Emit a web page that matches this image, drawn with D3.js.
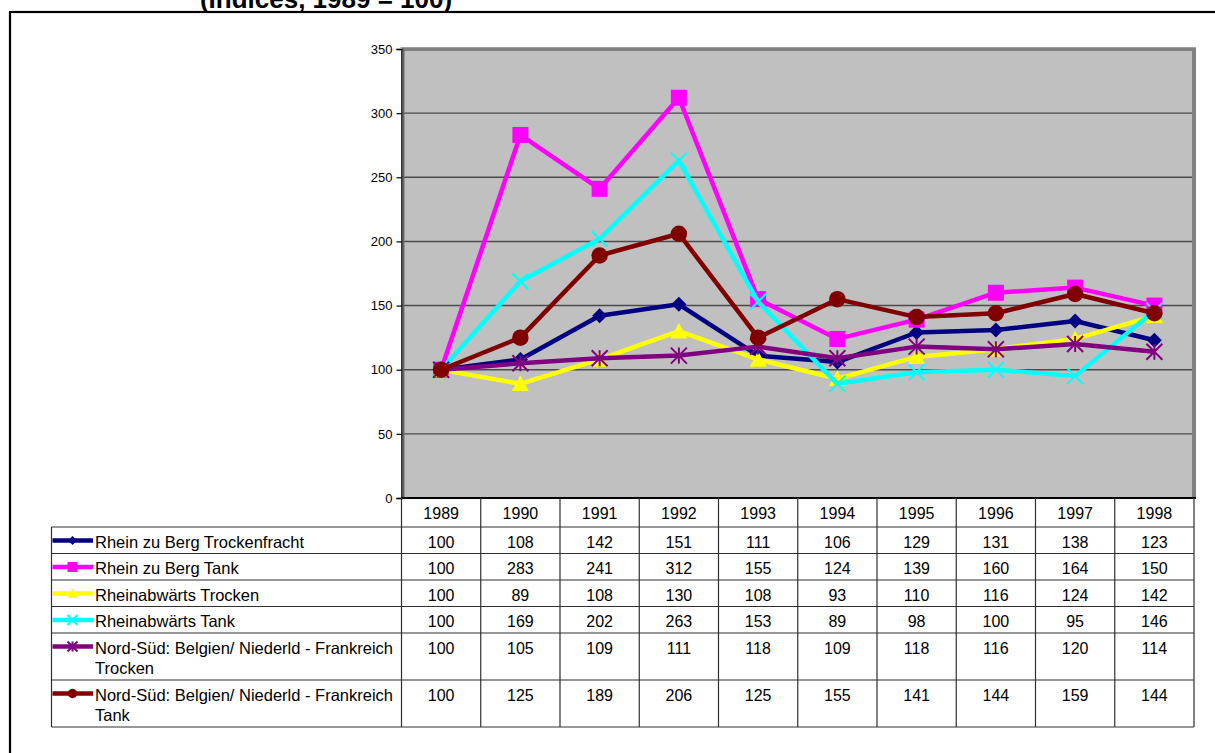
<!DOCTYPE html>
<html>
<head>
<meta charset="utf-8">
<script src="https://cdn.jsdelivr.net/npm/d3@7"></script>
<style>
html,body{margin:0;padding:0;background:#fff;}
svg{display:block;font-family:"Liberation Sans",Arial,sans-serif;}
</style>
</head>
<body>
<svg id="chart" width="1215" height="753"></svg>
<script>
const title = "(Indices, 1989 = 100)";
const years = ["1989","1990","1991","1992","1993","1994","1995","1996","1997","1998"];
const seriesNames = [
  ["Rhein zu Berg Trockenfracht"],
  ["Rhein zu Berg Tank"],
  ["Rheinabwärts Trocken"],
  ["Rheinabwärts Tank"],
  ["Nord-Süd: Belgien/ Niederld - Frankreich", "Trocken"],
  ["Nord-Süd: Belgien/ Niederld - Frankreich", "Tank"]
];
const rheinBergTrocken = [100,108,142,151,111,106,129,131,138,123];
const rheinBergTank    = [100,283,241,312,155,124,139,160,164,150];
const rheinabTrocken   = [100,89,108,130,108,93,110,116,124,142];
const rheinabTank      = [100,169,202,263,153,89,98,100,95,146];
const nsTrocken        = [100,105,109,111,118,109,118,116,120,114];
const nsTank           = [100,125,189,206,125,155,141,144,159,144];
const seriesValues = [rheinBergTrocken, rheinBergTank, rheinabTrocken, rheinabTank, nsTrocken, nsTank];
const seriesColors = ["#000080","#FF00FF","#FFFF00","#00FFFF","#800080","#800000"];
const seriesMarkers = ["diamond","square","triangle","x","asterisk","circle"];
const yTicks = [0,50,100,150,200,250,300,350];

const svg = d3.select("#chart");

// outer frame
svg.append("rect").attr("x",10).attr("y",12).attr("width",1220).attr("height",760)
  .attr("fill","none").attr("stroke","#000").attr("stroke-width",2.2);

// title (clipped at top, as in the original)
svg.append("text").attr("x",326).attr("y",8).attr("text-anchor","middle")
  .attr("font-weight","bold").attr("font-size",26).attr("fill","#000").text(title);

const pL = 401.5, pR = 1194, pT = 49, pB = 498;
const x = d3.scaleBand().domain(years).range([pL,pR]);
const y = d3.scaleLinear().domain([0,350]).range([pB,pT]);

// plot area
svg.append("rect").attr("x",pL).attr("y",pT).attr("width",pR-pL).attr("height",pB-pT)
  .attr("fill","#C0C0C0");
// gridlines
svg.append("g").selectAll("line").data(yTicks.filter(d=>d>0 && d<350)).join("line")
  .attr("x1",pL).attr("x2",pR).attr("y1",d=>y(d)).attr("y2",d=>y(d))
  .attr("stroke","#4a4a4a").attr("stroke-width",1.4);
// plot border (gray, top and right)
svg.append("path").attr("d",`M${pL},${pT} L${pR},${pT} L${pR},${pB}`)
  .attr("fill","none").attr("stroke","#808080").attr("stroke-width",4);
svg.append("line").attr("x1",pL-1).attr("x2",pR+2).attr("y1",pT-1.5).attr("y2",pT-1.5)
  .attr("stroke","#a0a0a0").attr("stroke-width",1);

// y axis
const yAxis = d3.axisLeft(y).tickValues(yTicks).tickSize(5).tickPadding(4);
const gy = svg.append("g").attr("transform",`translate(${pL},0)`).call(yAxis);
gy.select(".domain").attr("stroke","#000").attr("stroke-width",1.5);
gy.selectAll(".tick line").attr("stroke","#000").attr("stroke-width",1.2);
gy.selectAll(".tick text").attr("font-size",13).attr("fill","#000")
  .attr("font-family","'Liberation Sans',Arial,sans-serif");
svg.append("line").attr("x1",pL+2).attr("x2",pL+2).attr("y1",pT).attr("y2",pB)
  .attr("stroke","#6a6a6a").attr("stroke-width",2);

// lines and markers
function markerPath(type, s){
  const h = s/2;
  switch(type){
    case "diamond": return `M0,${-h} L${h},0 L0,${h} L${-h},0 Z`;
    case "square": return `M${-h},${-h} H${h} V${h} H${-h} Z`;
    case "triangle": return `M0,${-h} L${h},${h*0.85} L${-h},${h*0.85} Z`;
    case "x": return `M${-h},${-h} L${h},${h} M${h},${-h} L${-h},${h}`;
    case "asterisk": return `M${-h},${-h} L${h},${h} M${h},${-h} L${-h},${h} M0,${-h} L0,${h}`;
  }
}
function drawMarker(g, type, color, cx, cy, s){
  if(type==="circle"){
    g.append("circle").attr("cx",cx).attr("cy",cy).attr("r",s/2).attr("fill",color);
  } else if(type==="x" || type==="asterisk"){
    g.append("path").attr("transform",`translate(${cx},${cy})`).attr("d",markerPath(type,s))
      .attr("fill","none").attr("stroke",color).attr("stroke-width",2);
  } else {
    g.append("path").attr("transform",`translate(${cx},${cy})`).attr("d",markerPath(type,s))
      .attr("fill",color);
  }
}
const line = d3.line().x((d,i)=>x(years[i])+x.bandwidth()/2).y(d=>y(d));
const markerSizes = {diamond:15, square:16, triangle:17, x:16, asterisk:16, circle:16.5};
seriesValues.forEach((vals,si)=>{
  const g = svg.append("g");
  g.append("path").datum(vals).attr("d",line).attr("fill","none")
    .attr("stroke",seriesColors[si]).attr("stroke-width",4.5).attr("stroke-linejoin","round");
  vals.forEach((v,i)=>drawMarker(g, seriesMarkers[si], seriesColors[si],
    x(years[i])+x.bandwidth()/2, y(v), markerSizes[seriesMarkers[si]]));
});

// x axis line
svg.append("line").attr("x1",pL).attr("x2",pR+2).attr("y1",pB).attr("y2",pB)
  .attr("stroke","#000").attr("stroke-width",2.2);

// data table
const tL = 51.5, headB = 527;
const rowH = seriesNames.map(n=> n.length>1 ? 47 : 26.5);
const rowTops = [];
let acc = headB;
rowH.forEach(h=>{rowTops.push(acc); acc+=h;});
const tB = acc;
const tg = svg.append("g");
// header cells
tg.append("g").selectAll("text").data(years).join("text")
  .attr("x",d=>x(d)+x.bandwidth()/2).attr("y",pB+21).attr("text-anchor","middle")
  .attr("font-size",16).attr("fill","#000").text(d=>d);
// horizontal lines
tg.append("g").selectAll("line").data(rowTops.concat([tB])).join("line")
  .attr("x1",tL).attr("x2",pR).attr("y1",d=>d).attr("y2",d=>d)
  .attr("stroke","#303030").attr("stroke-width",1.2);
// vertical lines
const vx = years.map(d=>x(d)).concat([pR]);
tg.append("g").selectAll("line").data(vx).join("line")
  .attr("x1",d=>d).attr("x2",d=>d).attr("y1",pB).attr("y2",tB)
  .attr("stroke","#303030").attr("stroke-width",1.2);
tg.append("line").attr("x1",tL).attr("x2",tL).attr("y1",headB).attr("y2",tB)
  .attr("stroke","#303030").attr("stroke-width",1.2);
// rows
seriesValues.forEach((vals,si)=>{
  const top = rowTops[si];
  // legend key
  const ky = top+13.5;
  tg.append("line").attr("x1",tL+1).attr("x2",93).attr("y1",ky).attr("y2",ky)
    .attr("stroke",seriesColors[si]).attr("stroke-width",4.5);
  const ls = {diamond:9, square:10, triangle:10, x:10, asterisk:10, circle:9.5}[seriesMarkers[si]];
  drawMarker(tg, seriesMarkers[si], seriesColors[si], 72.5, ky, ls);
  seriesNames[si].forEach((t,li)=>{
    tg.append("text").attr("x",95).attr("y",top+20.5+li*20.5).attr("font-size",16.5)
      .attr("fill","#000").text(t);
  });
  tg.append("g").selectAll("text").data(vals).join("text")
    .attr("x",(d,i)=>x(years[i])+x.bandwidth()/2).attr("y",top+20.5)
    .attr("text-anchor","middle").attr("font-size",16).attr("fill","#000").text(d=>d);
});
</script>
</body>
</html>
